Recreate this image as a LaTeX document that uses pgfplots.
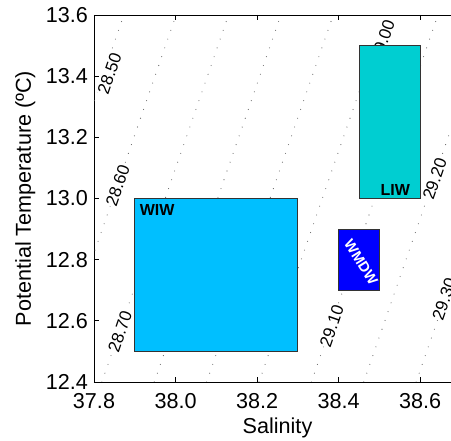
\documentclass[border=0pt]{standalone}
\usepackage{pgfplots}
\pgfplotsset{compat=1.18}
\usepackage{fontspec}
\setmainfont{Liberation Sans}
\definecolor{wiw}{RGB}{0,191,255}
\definecolor{liw}{RGB}{0,206,209}
\definecolor{wmdw}{RGB}{0,0,255}
\tikzset{
 contour/.style={black!60, line width=1.1bp, line cap=round, dash pattern=on 0bp off 9.3bp},
 clab/.style={fill=white, inner sep=0.5bp, rotate=71, font=\fontsize{17bp}{20bp}\selectfont},
}
\begin{document}
\begin{tikzpicture}
\begin{axis}[
 at={(0,0)}, anchor=south west,
 scale only axis, width=367bp, height=367bp,
 xmin=37.8, xmax=38.7, ymin=12.4, ymax=13.6,
 xtick={37.8,38.0,38.2,38.4,38.6}, xticklabels={37.8,38.0,38.2,38.4,38.6},
 ytick={12.4,12.6,12.8,13.0,13.2,13.4,13.6}, yticklabels={12.4,12.6,12.8,13.0,13.2,13.4,13.6},
 tick align=inside, major tick length=5bp,
 axis line style={line width=0.8bp},
 tick style={line width=0.8bp, black},
 tick label style={font=\fontsize{21.6bp}{26bp}\selectfont, inner sep=0pt},
 xticklabel style={anchor=north, yshift=-11bp},
 yticklabel style={anchor=east, xshift=-6bp},
 xlabel={Salinity}, ylabel={Potential Temperature (ºC)},
 label style={font=\fontsize{21.6bp}{26bp}\selectfont, inner sep=0pt},
 xlabel style={at={(axis description cs:0.5,-0.098)}, anchor=north},
 ylabel style={at={(axis description cs:-0.2153,0.5)}, anchor=north},
]
% isopycnals (sigma-theta)
\addplot[contour, forget plot] coordinates {(37.5625,12.4) (37.8730,13.6)};
\addplot[contour, forget plot] coordinates {(37.6910,12.4) (38.0014,13.6)};
\addplot[contour, forget plot] coordinates {(37.8194,12.4) (38.1298,13.6)};
\addplot[contour, forget plot] coordinates {(37.9478,12.4) (38.2582,13.6)};
\addplot[contour, forget plot] coordinates {(38.0763,12.4) (38.3867,13.6)};
\addplot[contour, forget plot] coordinates {(38.2047,12.4) (38.5151,13.6)};
\addplot[contour, forget plot] coordinates {(38.3331,12.4) (38.6435,13.6)};
\addplot[contour, forget plot] coordinates {(38.4616,12.4) (38.7720,13.6)};
\addplot[contour, forget plot] coordinates {(38.5900,12.4) (38.9004,13.6)};
\node[clab] at (axis cs:37.838,13.409) {28.50};
\node[clab] at (axis cs:37.858,13.043) {28.60};
\node[clab] at (axis cs:37.864,12.564) {28.70};
\node[clab] at (axis cs:38.508,13.516) {29.00};
\node[clab] at (axis cs:38.383,12.583) {29.10};
\node[clab] at (axis cs:38.6356,13.064) {29.20};
\node[clab] at (axis cs:38.659,12.671) {29.30};
% water masses
\addplot[fill=wiw, draw=black!80, line width=0.8bp] coordinates {(37.9,12.5) (38.3,12.5) (38.3,13.0) (37.9,13.0)} -- cycle;
\addplot[fill=liw, draw=black!80, line width=0.8bp] coordinates {(38.45,13.0) (38.6,13.0) (38.6,13.5) (38.45,13.5)} -- cycle;
\addplot[fill=wmdw, draw=black!80, line width=0.8bp] coordinates {(38.4,12.7) (38.5,12.7) (38.5,12.9) (38.4,12.9)} -- cycle;
\node[font=\bfseries\fontsize{16bp}{19bp}\selectfont] at (axis cs:37.955,12.962) {WIW};
\node[font=\bfseries\fontsize{16bp}{19bp}\selectfont] at (axis cs:38.5387,13.028) {LIW};
\node[white, rotate=-58, inner sep=0pt, font=\bfseries\fontsize{14.5bp}{17bp}\selectfont] at (axis cs:38.455,12.792) {WMDW};
\end{axis}
\pgfresetboundingbox
\path[use as bounding box] (-94bp,-59bp) rectangle (357bp,382bp);
\end{tikzpicture}
\end{document}
